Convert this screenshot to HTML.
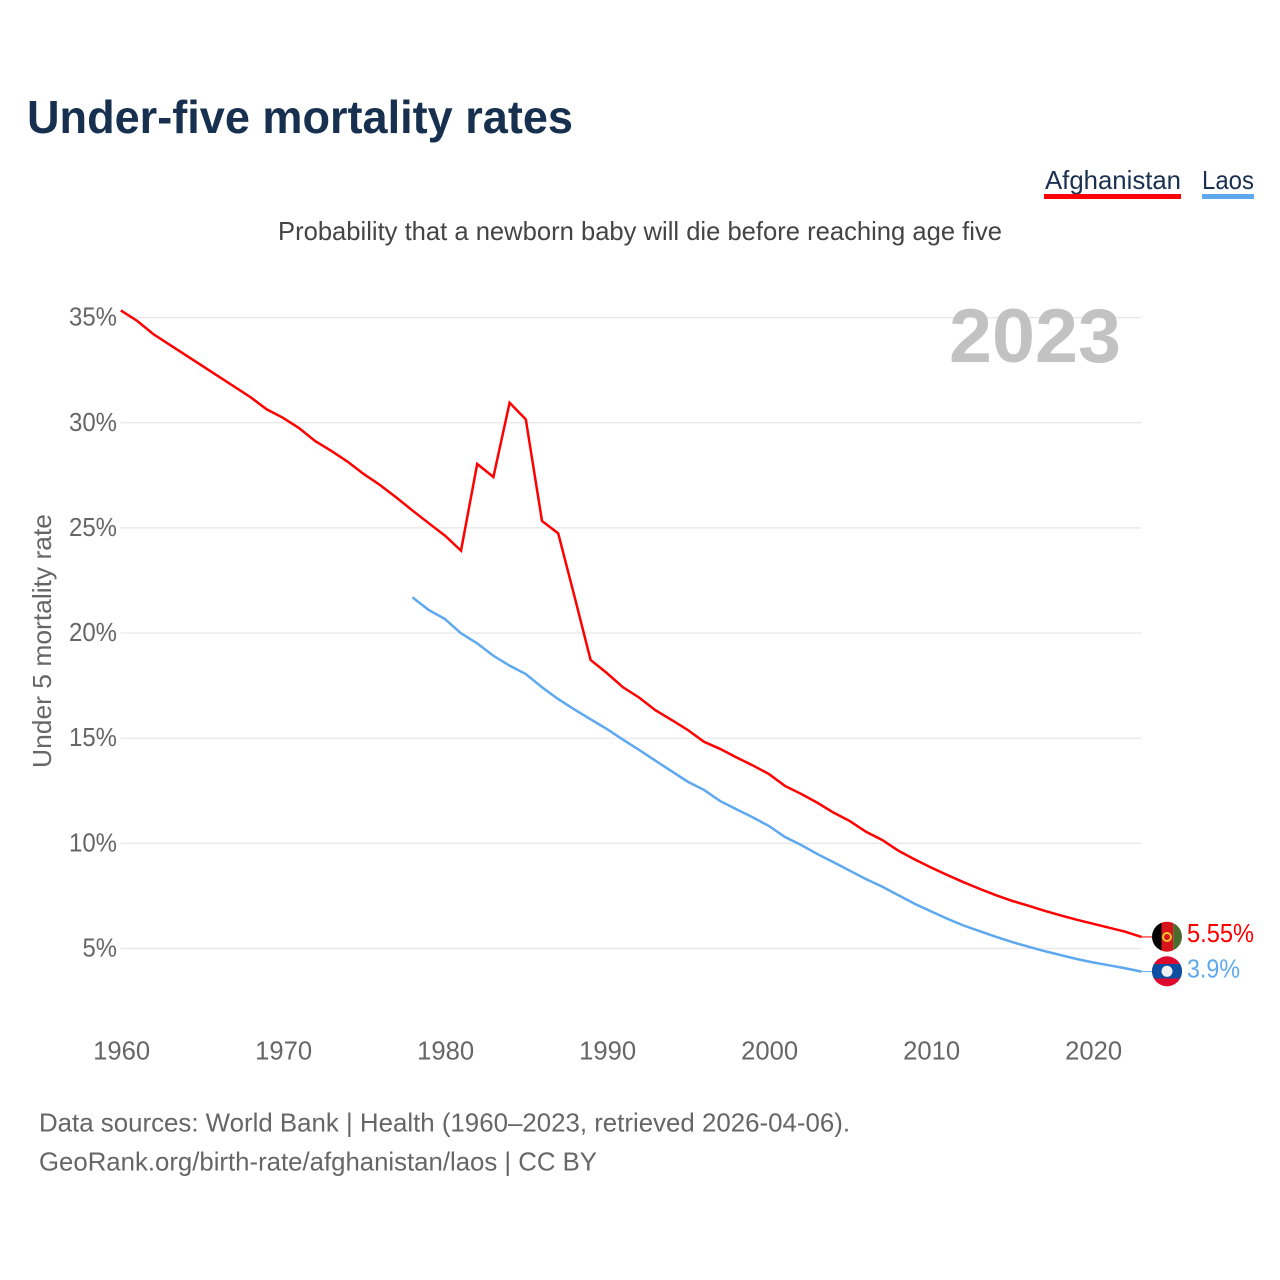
<!DOCTYPE html>
<html lang="en">
<head>
<meta charset="utf-8">
<title>Under-five mortality rates</title>
<style>
html,body{margin:0;padding:0;background:#fff;width:1280px;height:1280px;overflow:hidden}
svg{display:block;font-family:"Liberation Sans",sans-serif}
</style>
</head>
<body>
<svg id="chart" xmlns="http://www.w3.org/2000/svg" width="1280" height="1280" viewBox="0 0 1280 1280">
  <rect width="1280" height="1280" fill="#fff"/>
  <text x="27" y="133" font-size="46" font-weight="700" fill="#17304f" textLength="546" lengthAdjust="spacingAndGlyphs">Under-five mortality rates</text>
  <g>
    <g>
      <text x="1045" y="189" font-size="26" fill="#1a3050" textLength="136" lengthAdjust="spacingAndGlyphs">Afghanistan</text>
      <rect x="1044" y="194" width="137" height="5" fill="#ff0000"/>
    </g>
    <g>
      <text x="1202" y="189" font-size="26" fill="#1a3050" textLength="52" lengthAdjust="spacingAndGlyphs">Laos</text>
      <rect x="1202" y="194" width="52" height="5" fill="#5ea8f0"/>
    </g>
  </g>
  <text x="278" y="240" font-size="26" fill="#444" textLength="724" lengthAdjust="spacingAndGlyphs">Probability that a newborn baby will die before reaching age five</text>
  <g id="grid"></g>
  <g id="yticks"></g>
  <g id="xticks"></g>
  <text transform="translate(51,768) rotate(-90)" font-size="26" fill="#666" textLength="254" lengthAdjust="spacingAndGlyphs">Under 5 mortality rate</text>
  <text x="949" y="362" font-size="76" font-weight="700" fill="#c2c2c2" textLength="172" lengthAdjust="spacingAndGlyphs">2023</text>
  <g id="series"></g>
  <g>
    <clipPath id="clip-af"><circle cx="1167" cy="936.7" r="15"/></clipPath>
    <g clip-path="url(#clip-af)">
      <rect x="1152" y="921" width="9.5" height="32" fill="#000"/>
      <rect x="1161.5" y="921" width="11.8" height="32" fill="#d7141a"/>
      <rect x="1173.3" y="921" width="9" height="32" fill="#4a6b2e"/>
    </g>
    <circle cx="1167" cy="937" r="4" fill="none" stroke="#f4c430" stroke-width="2"/>
  </g>
  <g>
    <clipPath id="clip-la"><circle cx="1167" cy="971.3" r="15"/></clipPath>
    <g clip-path="url(#clip-la)">
      <rect x="1152" y="956" width="30" height="31" fill="#de0a2e"/>
      <rect x="1152" y="964" width="30" height="14.5" fill="#0b4ea2"/>
    </g>
    <circle cx="1167" cy="971.3" r="5.5" fill="#eef0f2"/>
  </g>
  <text x="1187" y="942" font-size="26" fill="#ff0000" textLength="67" lengthAdjust="spacingAndGlyphs">5.55%</text>
  <text x="1187" y="977.5" font-size="26" fill="#5ea8f0" textLength="53" lengthAdjust="spacingAndGlyphs">3.9%</text>
  <text x="39" y="1131.5" font-size="26" fill="#666" textLength="811" lengthAdjust="spacingAndGlyphs">Data sources: World Bank | Health (1960–2023, retrieved 2026-04-06).</text>
  <text x="39" y="1170.5" font-size="26" fill="#666" textLength="558" lengthAdjust="spacingAndGlyphs">GeoRank.org/birth-rate/afghanistan/laos | CC BY</text>
</svg>
<script>
const yTickValues = [5, 10, 15, 20, 25, 30, 35];
const xTickYears = [1960, 1970, 1980, 1990, 2000, 2010, 2020];
const afghanistanStartYear = 1960;
const afghanistanValues = [
  35.34, 34.85, 34.22, 33.72, 33.22, 32.72, 32.22, 31.72, 31.22, 30.64,
  30.24, 29.75, 29.13, 28.66, 28.15, 27.56, 27.04, 26.45, 25.83, 25.23,
  24.64, 23.92, 28.04, 27.42, 30.95, 30.16, 25.33, 24.74, 21.76, 18.72,
  18.10, 17.42, 16.93, 16.33, 15.87, 15.39, 14.83, 14.49, 14.09, 13.71,
  13.30, 12.73, 12.35, 11.93, 11.46, 11.06, 10.55, 10.16, 9.65, 9.24,
  8.86, 8.50, 8.16, 7.84, 7.54, 7.27, 7.04, 6.80, 6.58, 6.37,
  6.18, 5.99, 5.80, 5.55
];
const laosStartYear = 1978;
const laosValues = [
  21.70, 21.10, 20.67, 19.99, 19.51, 18.92, 18.45, 18.05, 17.42, 16.86,
  16.37, 15.90, 15.44, 14.93, 14.44, 13.93, 13.43, 12.93, 12.54, 12.01,
  11.62, 11.24, 10.83, 10.30, 9.92, 9.49, 9.10, 8.70, 8.30, 7.94,
  7.53, 7.13, 6.77, 6.42, 6.10, 5.83, 5.56, 5.31, 5.09, 4.88,
  4.69, 4.50, 4.34, 4.20, 4.06, 3.90
];

const SVG_NS = 'http://www.w3.org/2000/svg';
function xAt(year) { return 120.8 + (year - 1960) * 16.2; }
function yAt(value) { return 948.5 - (value - 5) * 21.03; }

const grid = document.getElementById('grid');
const yticks = document.getElementById('yticks');
yTickValues.forEach(function (v) {
  const line = document.createElementNS(SVG_NS, 'line');
  
  
  line.setAttribute('x1', xAt(1960));
  line.setAttribute('x2', xAt(2023));
  line.setAttribute('y1', yAt(v));
  line.setAttribute('y2', yAt(v));
  line.setAttribute('stroke', '#e6e6e6');
  line.setAttribute('stroke-width', '1.2');
  grid.appendChild(line);

  const label = document.createElementNS(SVG_NS, 'text');
  
  
  label.setAttribute('x', 117);
  label.setAttribute('y', yAt(v) + 8);
  label.setAttribute('text-anchor', 'end');
  label.setAttribute('font-size', '26');
  label.setAttribute('fill', '#666');
  label.setAttribute('textLength', String(v).length * 13.5 + 21);
  label.setAttribute('lengthAdjust', 'spacingAndGlyphs');
  label.textContent = v + '%';
  yticks.appendChild(label);
});

const xticks = document.getElementById('xticks');
xTickYears.forEach(function (year) {
  const label = document.createElementNS(SVG_NS, 'text');
  
  
  label.setAttribute('x', xAt(year) + 0.8);
  label.setAttribute('y', 1059.5);
  label.setAttribute('text-anchor', 'middle');
  label.setAttribute('font-size', '26');
  label.setAttribute('fill', '#666');
  label.setAttribute('textLength', '57');
  label.setAttribute('lengthAdjust', 'spacingAndGlyphs');
  label.textContent = year;
  xticks.appendChild(label);
});

function pathFor(values, startYear) {
  return values.map(function (v, i) {
    return (i ? 'L' : 'M') + xAt(startYear + i).toFixed(2) + ' ' + yAt(v).toFixed(2);
  }).join(' ');
}

const series = document.getElementById('series');

const laosLine = document.createElementNS(SVG_NS, 'path');


laosLine.setAttribute('d', pathFor(laosValues, laosStartYear));
laosLine.setAttribute('fill', 'none');
laosLine.setAttribute('stroke', '#5ea8f0');
laosLine.setAttribute('stroke-width', '2.5');
series.appendChild(laosLine);

const afghanistanLine = document.createElementNS(SVG_NS, 'path');


afghanistanLine.setAttribute('d', pathFor(afghanistanValues, afghanistanStartYear));
afghanistanLine.setAttribute('fill', 'none');
afghanistanLine.setAttribute('stroke', '#ff0000');
afghanistanLine.setAttribute('stroke-width', '2.5');
series.appendChild(afghanistanLine);

const afghanistanConnector = document.createElementNS(SVG_NS, 'line');


afghanistanConnector.setAttribute('x1', xAt(2023));
afghanistanConnector.setAttribute('x2', 1152);
afghanistanConnector.setAttribute('y1', yAt(afghanistanValues[afghanistanValues.length - 1]));
afghanistanConnector.setAttribute('y2', yAt(afghanistanValues[afghanistanValues.length - 1]));
afghanistanConnector.setAttribute('stroke', '#ff0000');
afghanistanConnector.setAttribute('stroke-width', '1');
series.appendChild(afghanistanConnector);

const laosConnector = document.createElementNS(SVG_NS, 'line');


laosConnector.setAttribute('x1', xAt(2023));
laosConnector.setAttribute('x2', 1152);
laosConnector.setAttribute('y1', yAt(laosValues[laosValues.length - 1]));
laosConnector.setAttribute('y2', yAt(laosValues[laosValues.length - 1]));
laosConnector.setAttribute('stroke', '#5ea8f0');
laosConnector.setAttribute('stroke-width', '1');
series.appendChild(laosConnector);
</script>
</body>
</html>
